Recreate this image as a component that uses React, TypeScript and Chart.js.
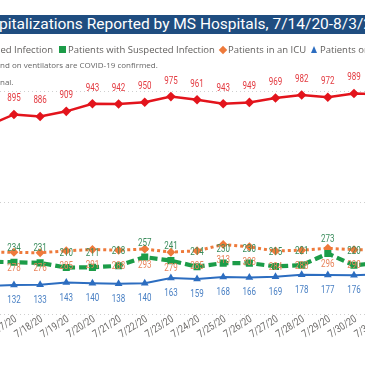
import React, { useEffect, useRef } from "react";
import { Chart, registerables } from "chart.js";

Chart.register(...registerables);

// ---- Data ----
const dates = [
  "7/14/20", "7/15/20", "7/16/20", "7/17/20", "7/18/20", "7/19/20", "7/20/20",
  "7/21/20", "7/22/20", "7/23/20", "7/24/20", "7/25/20", "7/26/20", "7/27/20",
  "7/28/20", "7/29/20", "7/30/20", "7/31/20", "8/1/20", "8/2/20", "8/3/20",
];
const confirmed = [872, 870, 845, 895, 886, 909, 943, 942, 950, 975, 961, 943, 949, 969, 982, 972, 989, 985, 960, 967, 990];
const suspected = [240, 238, 236, 234, 231, 210, 211, 218, 257, 241, 214, 230, 230, 215, 221, 273, 220, 232, 237, 230, 244];
const icu = [271, 283, 280, 278, 276, 285, 291, 288, 293, 279, 285, 313, 303, 284, 288, 296, 290, 290, 292, 296, 300];
const ventilators = [128, 130, 128, 132, 133, 143, 140, 138, 140, 163, 159, 168, 166, 169, 178, 177, 176, 180, 179, 182, 185];
const yTicks = [0, 500, 1000];

const seriesNames = [
  "Patients with Confirmed Infection",
  "Patients with Suspected Infection",
  "Patients in an ICU",
  "Patients on Ventilators",
];

// ---- Styles ----
const DIN = "Roboto, 'DejaVu Sans', sans-serif";
const UI = "'Open Sans', 'Noto Sans', sans-serif";
const RED = "#E3141C";
const GREEN = "#1C9C48";
const ORANGE = "#EE7A3B";
const BLUE = "#2C6DC0";

const labelStyles = [
  { color: "#E33A40", dy: -15.5 },
  { color: "#3A8C5C", dy: -14 },
  { color: "#E9855C", dy: 16 },
  { color: "#4A80C4", dy: 15.5 },
];

const dataLabelPlugin = {
  id: "dataLabelPlugin",
  afterDatasetsDraw(chart: any) {
    const ctx = chart.ctx;
    ctx.save();
    ctx.font = `10px ${DIN}`;
    ctx.textAlign = "center";
    ctx.textBaseline = "middle";
    chart.data.datasets.forEach((ds: any, i: number) => {
      const meta = chart.getDatasetMeta(i);
      const st = labelStyles[i];
      ctx.fillStyle = st.color;
      meta.data.forEach((pt: any, j: number) => {
        ctx.save();
        ctx.translate(pt.x, pt.y + st.dy);
        ctx.scale(0.8, 1);
        ctx.fillText(String(ds.data[j]), 0, 0);
        ctx.restore();
      });
    });
    ctx.restore();
  },
};

const xLabelPlugin = {
  id: "xLabelPlugin",
  afterDraw(chart: any) {
    const ctx = chart.ctx;
    const xs = chart.scales.x;
    const y0 = chart.chartArea.bottom - 0.5;
    ctx.save();
    ctx.font = `10.5px ${DIN}`;
    ctx.fillStyle = "#6A6866";
    ctx.textAlign = "right";
    ctx.textBaseline = "top";
    dates.forEach((d, i) => {
      const x = xs.getPixelForValue(i);
      ctx.save();
      ctx.translate(x - 1, y0);
      ctx.rotate((-33 * Math.PI) / 180);
      ctx.scale(0.82, 1);
      ctx.fillText(d, 0, 0);
      ctx.restore();
    });
    ctx.restore();
  },
};

function ChartCanvas() {
  const ref = useRef<HTMLCanvasElement | null>(null);
  useEffect(() => {
    if (!ref.current) return;
    const chart = new Chart(ref.current, {
      type: "line",
      data: {
        labels: dates,
        datasets: [
          {
            label: seriesNames[0], data: confirmed, borderColor: RED, backgroundColor: RED,
            borderWidth: 2.5, pointStyle: "rectRot", pointRadius: 4.8, pointBorderWidth: 0, tension: 0,
          },
          {
            label: seriesNames[1], data: suspected, borderColor: GREEN, backgroundColor: GREEN,
            borderWidth: 4.2, borderDash: [8, 4], pointStyle: "rect", pointRadius: 5, pointBorderWidth: 0, tension: 0,
          },
          {
            label: seriesNames[2], data: icu, borderColor: ORANGE, backgroundColor: ORANGE,
            borderWidth: 3, borderDash: [3, 3], pointStyle: "rectRot", pointRadius: 4.5, pointBorderWidth: 0, tension: 0,
          },
          {
            label: seriesNames[3], data: ventilators, borderColor: BLUE, backgroundColor: BLUE,
            borderWidth: 2, pointStyle: "triangle", pointRadius: 4.5, pointBorderWidth: 0, tension: 0,
          },
        ],
      },
      options: {
        responsive: false,
        animation: false,
        layout: { padding: { left: 85.5, right: 41.4, top: 68.65, bottom: 15.5 } },
        plugins: { legend: { display: false }, tooltip: { enabled: false }, title: { display: false } },
        scales: {
          x: {
            type: "category",
            offset: false,
            grid: { display: false, drawTicks: false },
            border: { display: false },
            ticks: { display: false },
            afterFit: (s: any) => { s.height = 50; },
          },
          y: {
            min: 0, max: 1100,
            afterBuildTicks: (s: any) => { s.ticks = yTicks.map((v) => ({ value: v })); },
            grid: { color: "#CFCFCF", lineWidth: 1, drawTicks: false },
            border: { display: false, dash: [1, 3] },
            ticks: { display: false },
            afterFit: (s: any) => { s.width = 0; },
          },
        },
      },
      plugins: [dataLabelPlugin, xLabelPlugin],
    } as any);
    return () => chart.destroy();
  }, []);
  return (
    <canvas ref={ref} width={650} height={380}
      style={{ position: "absolute", left: -150, top: 0, width: 650, height: 380 }} />
  );
}

export default function App() {
  const text: React.CSSProperties = { position: "absolute", whiteSpace: "nowrap", color: "#605E5C", fontFamily: UI, fontSize: 9.5, lineHeight: "12px" };
  const note: React.CSSProperties = { ...text, fontSize: 8, color: "#666666" };
  return (
    <div style={{ position: "fixed", left: 0, top: 0, width: 365, height: 365, overflow: "hidden", background: "#fff" }}>
      <ChartCanvas />
      <div style={{ position: "absolute", left: 0, top: 15, width: 365, height: 19, background: "#1F4D80" }} />
      <div style={{ position: "absolute", left: -1, top: 15, height: 19, lineHeight: "19px", whiteSpace: "nowrap", color: "#fff", fontFamily: "Roboto, sans-serif", fontSize: 15.5 }}>
        <span style={{ position: "absolute", right: "100%" }}>COVID-19 Hos</span>pitalizations Reported by MS Hospitals, 7/14/20-8/3/20
      </div>
      {/* legend */}
      <div style={{ ...text, right: 312, top: 44, display: "flex", alignItems: "center" }}>
        <span style={{ display: "inline-block", width: 7, height: 7, background: RED, marginRight: 2 }} />
        {seriesNames[0]}
      </div>
      <span style={{ position: "absolute", left: 59, top: 46, width: 7, height: 7, background: GREEN }} />
      <div style={{ ...text, left: 68, top: 44 }}>{seriesNames[1]}</div>
      <span style={{ position: "absolute", left: 220, top: 46.5, width: 6, height: 6, background: ORANGE, transform: "rotate(45deg)" }} />
      <div style={{ ...text, left: 228, top: 44 }}>{seriesNames[2]}</div>
      <span style={{ position: "absolute", left: 311, top: 46, width: 0, height: 0, borderLeft: "3.5px solid transparent", borderRight: "3.5px solid transparent", borderBottom: "7px solid " + BLUE }} />
      <div style={{ ...text, left: 320, top: 44 }}>{seriesNames[3]}</div>
      {/* notes */}
      <div style={{ ...note, left: 0, top: 58.5 }}>
        <span style={{ position: "absolute", right: "100%" }}>Patients in an ICU a</span>nd on ventilators are COVID-19 confirmed.
      </div>
      <div style={{ ...note, left: 0, top: 76 }}>
        <span style={{ position: "absolute", right: "100%" }}>Data are provisio</span>nal.
      </div>
    </div>
  );
}
